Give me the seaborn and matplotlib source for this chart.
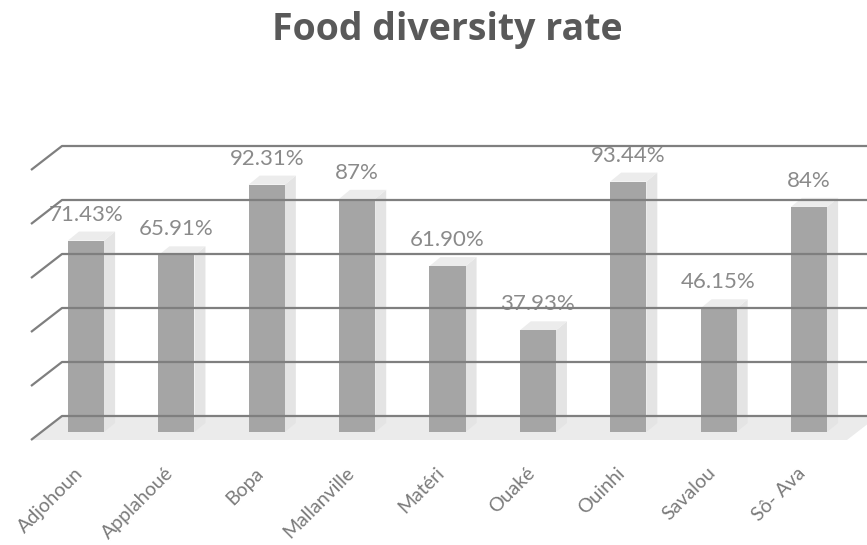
import matplotlib
matplotlib.use("Agg")
import matplotlib.pyplot as plt
import seaborn as sns
import pandas as pd
from matplotlib.patches import Polygon

# ---- data ----
regions = ["Adjohoun", "Applahoué", "Bopa", "Mallanville", "Matéri",
           "Ouaké", "Ouinhi", "Savalou", "Sô- Ava"]
rates = [71.43, 65.91, 92.31, 87, 61.90, 37.93, 93.44, 46.15, 84]
rate_labels = ["71.43%", "65.91%", "92.31%", "87%", "61.90%",
               "37.93%", "93.44%", "46.15%", "84%"]
grid_values = [0, 20, 40, 60, 80, 100]

df = pd.DataFrame({"region": regions, "rate": rates})

sns.set_theme(style="white")
plt.rcParams["font.family"] = ["Lato", "DejaVu Sans"]

W, H = 867, 545
fig = plt.figure(figsize=(W / 100, H / 100), dpi=100)

# layout in pixels
PX_X = 90.375      # px per category
PX_Y = 2.68        # px per percent
X0_PX = 86         # pixel of first category
BASE_PX = 432      # pixel of 0%
AX_BOTTOM_PX = 442
AX_TOP_PX = 100

ax = fig.add_axes([0, (H - AX_BOTTOM_PX) / H, 1, (AX_BOTTOM_PX - AX_TOP_PX) / H])


def dx(px):
    return px / PX_X


def dy(px):
    return px / PX_Y


FRONT = "#a5a5a5"
SIDE = "#e4e4e4"
TOP = "#ececec"
FLOOR = "#ebebeb"
GRID = "#7f7f7f"

# front faces of bars
bw = 0.4
sns.barplot(data=df, x="region", y="rate", color=FRONT, saturation=1,
            width=bw, ax=ax, zorder=2, edgecolor="none")

ax.set_xlim(-X0_PX / PX_X, (W - X0_PX) / PX_X)
ax.set_ylim(-(AX_BOTTOM_PX - BASE_PX) / PX_Y, (BASE_PX - AX_TOP_PX) / PX_Y)

# floor
floor = Polygon([(dx(31 - X0_PX), -dy(8)), (dx(847 - X0_PX), -dy(8)),
                 (dx(878 - X0_PX), dy(16)), (dx(62 - X0_PX), dy(16))],
                closed=True, facecolor=FLOOR, edgecolor="none", zorder=0)
ax.add_patch(floor)

# 3D side and top faces
ddx, ddy = dx(11), dy(9)
for i, v in enumerate(rates):
    r = i + bw / 2
    l = i - bw / 2
    side = Polygon([(r, 0), (r + ddx, ddy), (r + ddx, v + ddy), (r, v)],
                   closed=True, facecolor=SIDE, edgecolor="none", zorder=1.5)
    top = Polygon([(l, v), (r, v), (r + ddx, v + ddy), (l + ddx, v + ddy)],
                  closed=True, facecolor=TOP, edgecolor="none", zorder=1.5)
    ax.add_patch(side)
    ax.add_patch(top)
    ax.text(i, v + dy(26), rate_labels[i], ha="center", va="center",
            fontsize=16, color="#8a8a8a", zorder=4)

# back-wall gridlines with left diagonals
xl_back = dx(62 - X0_PX)
xl_front = dx(31 - X0_PX)
xr = dx(W + 20 - X0_PX)
for g in grid_values:
    yb = dy(16) + g * 2.70 / PX_Y
    ax.plot([xl_front, xl_back, xr], [yb - dy(24), yb, yb],
            color=GRID, lw=1.6, solid_capstyle="butt", zorder=5,
            clip_on=True)

# axes styling
for s in ax.spines.values():
    s.set_visible(False)
ax.set_yticks([])
ax.set_xlabel("")
ax.set_ylabel("")
ax.tick_params(axis="x", length=0, pad=16, colors="#7a7a7a", labelsize=14)
for lab in ax.get_xticklabels():
    lab.set_rotation(45)
    lab.set_ha("right")

fig.text(447.5 / W, (H - 40) / H, "Food diversity rate", ha="center",
         va="baseline", fontsize=27, fontweight="bold", color="#595959",
         family=["Open Sans", "DejaVu Sans"])

fig.savefig("out.png", dpi=100)
